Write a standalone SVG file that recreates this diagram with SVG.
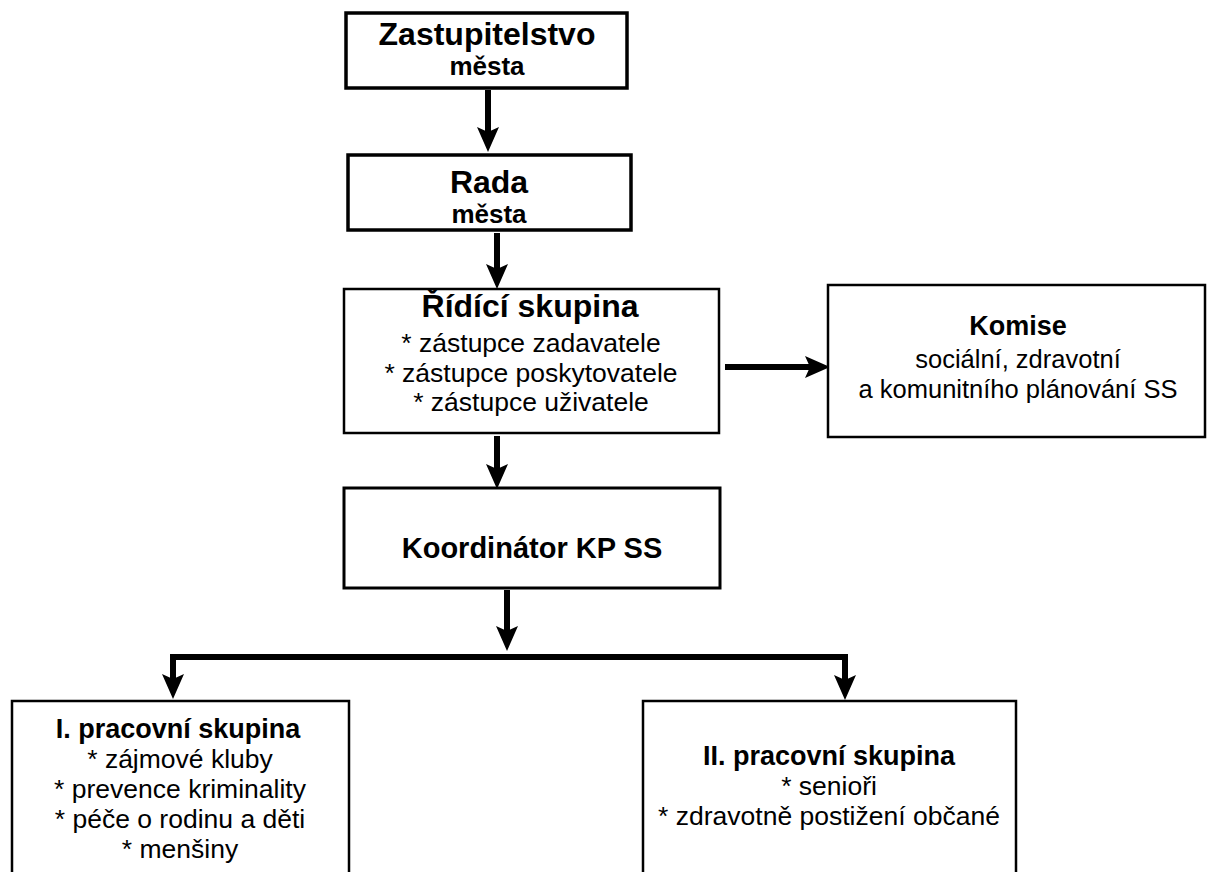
<svg xmlns="http://www.w3.org/2000/svg" width="1216" height="872" viewBox="0 0 1216 872">
<style>
  .box{fill:#fff;stroke:#000;stroke-width:2.5}
  .thick{stroke-width:3.5}
  .t{font-family:"Liberation Sans",Arial,sans-serif;text-anchor:middle;fill:#000}
  .b{font-weight:bold}
  .c{fill:none;stroke:#000;stroke-width:6}
</style>
<defs>
  <marker id="ah" markerUnits="userSpaceOnUse" markerWidth="26" markerHeight="24" refX="12" refY="11" orient="auto" viewBox="0 0 26 22">
    <path d="M0,0 L25,11 L0,22 L5,11 z" fill="#000"/>
  </marker>
</defs>
<rect width="1216" height="872" fill="#fff"/>
<g id="connectors">
  <path class="c" d="M488,90 V139" marker-end="url(#ah)"/>
  <path class="c" d="M497,233 V276" marker-end="url(#ah)"/>
  <path class="c" d="M725,367 H817" marker-end="url(#ah)"/>
  <path class="c" d="M497,436 V476" marker-end="url(#ah)"/>
  <path class="c" d="M507,590 V638" marker-end="url(#ah)"/>
  <path class="c" d="M507,657 H173 V686" marker-end="url(#ah)"/>
  <path class="c" d="M507,657 H845 V687" marker-end="url(#ah)"/>
</g>
<g id="zastupitelstvo">
  <rect class="box thick" x="346" y="13" width="281" height="75"/>
  <text class="t b" x="487" y="45" font-size="32">Zastupitelstvo</text>
  <text class="t b" x="487" y="75" font-size="26">města</text>
</g>
<g id="rada">
  <rect class="box thick" x="348" y="155" width="283" height="75"/>
  <text class="t b" x="489" y="193" font-size="32">Rada</text>
  <text class="t b" x="489" y="223" font-size="26">města</text>
</g>
<g id="ridici">
  <rect class="box" x="344" y="289" width="375" height="144"/>
  <text class="t b" x="530" y="317" font-size="32">Řídící skupina</text>
  <text class="t" x="531" y="352" font-size="26.5">* zástupce zadavatele</text>
  <text class="t" x="531" y="382" font-size="26.5">* zástupce poskytovatele</text>
  <text class="t" x="531" y="411" font-size="26.5">* zástupce uživatele</text>
</g>
<g id="komise">
  <rect class="box" x="828" y="285" width="377" height="152"/>
  <text class="t b" x="1018" y="335" font-size="27">Komise</text>
  <text class="t" x="1018" y="368" font-size="25.5">sociální, zdravotní</text>
  <text class="t" x="1018" y="398" font-size="25.5">a komunitního plánování SS</text>
</g>
<g id="koordinator">
  <rect class="box" x="344" y="488" width="376" height="100" style="stroke-width:3"/>
  <text class="t b" x="532" y="558" font-size="29">Koordinátor KP SS</text>
</g>
<g id="skupina1">
  <rect class="box" x="12" y="701" width="337" height="190"/>
  <text class="t b" x="178" y="738" font-size="27">I. pracovní skupina</text>
  <text class="t" x="180" y="768" font-size="26.5">* zájmové kluby</text>
  <text class="t" x="180" y="798" font-size="26.5">* prevence kriminality</text>
  <text class="t" x="180" y="828" font-size="26.5">* péče o rodinu a děti</text>
  <text class="t" x="180" y="858" font-size="26.5">* menšiny</text>
</g>
<g id="skupina2">
  <rect class="box" x="643" y="701" width="373" height="190"/>
  <text class="t b" x="829" y="765" font-size="27">II. pracovní skupina</text>
  <text class="t" x="829" y="795" font-size="26.5">* senioři</text>
  <text class="t" x="829" y="825" font-size="26.5">* zdravotně postižení občané</text>
</g>
</svg>
